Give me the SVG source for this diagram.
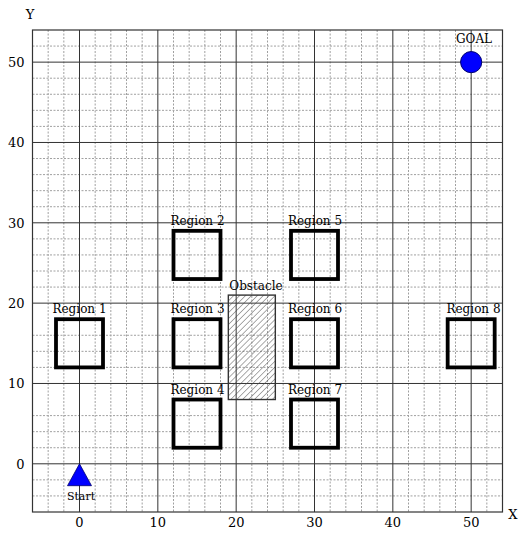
<svg xmlns="http://www.w3.org/2000/svg" width="518" height="534" viewBox="0 0 518 534">
<style>
.minor{fill:none;stroke:#a0a0a0;stroke-width:1;stroke-dasharray:2 1.5}
.major{fill:none;stroke:#333;stroke-width:1}
.border{fill:none;stroke:#333;stroke-width:1.2}
.region{fill:none;stroke:#000;stroke-width:3.8}
.lbl{font-family:"DejaVu Serif","Liberation Serif",serif;font-size:12px;fill:#000}
.tick{font-family:"DejaVu Serif","Liberation Serif",serif;font-size:13px;fill:#000}
.mid{text-anchor:middle}
.end{text-anchor:end}
</style>
<defs>
<pattern id="hatch" patternUnits="userSpaceOnUse" width="4.2" height="4.2" patternTransform="rotate(45)">
<line x1="0" y1="0" x2="0" y2="4.2" stroke="#444" stroke-width="0.9"/>
</pattern>
</defs>
<rect x="0" y="0" width="518" height="534" fill="#fff"/>
<g id="grid">
<path class="minor" d="M48.17 30V512M63.83 30V512M95.17 30V512M110.83 30V512M126.5 30V512M142.17 30V512M173.5 30V512M189.17 30V512M204.83 30V512M220.5 30V512M251.83 30V512M267.5 30V512M283.17 30V512M298.83 30V512M330.17 30V512M345.83 30V512M361.5 30V512M377.17 30V512M408.5 30V512M424.17 30V512M439.83 30V512M455.5 30V512M486.83 30V512"/>
<path class="minor" d="M32.5 46.07H502.5M32.5 78.2H502.5M32.5 94.27H502.5M32.5 110.33H502.5M32.5 126.4H502.5M32.5 158.53H502.5M32.5 174.6H502.5M32.5 190.67H502.5M32.5 206.73H502.5M32.5 238.87H502.5M32.5 254.93H502.5M32.5 271H502.5M32.5 287.07H502.5M32.5 335.27H502.5M32.5 351.33H502.5M32.5 367.4H502.5M32.5 415.6H502.5M32.5 431.67H502.5M32.5 447.73H502.5M32.5 479.87H502.5M32.5 495.93H502.5"/>
<path class="major" d="M79.5 30V512M157.83 30V512M236.17 30V512M314.5 30V512M392.83 30V512M471.17 30V512M32.5 62.13H502.5M32.5 142.47H502.5M32.5 222.8H502.5M32.5 303.13H502.5M32.5 383.47H502.5M32.5 463.8H502.5"/>
<rect class="border" x="32.5" y="30" width="470" height="482"/>
</g>
<g id="axes">
<text class="tick mid" x="79.5" y="527">0</text>
<text class="tick mid" x="157.83" y="527">10</text>
<text class="tick mid" x="236.17" y="527">20</text>
<text class="tick mid" x="314.5" y="527">30</text>
<text class="tick mid" x="392.83" y="527">40</text>
<text class="tick mid" x="471.17" y="527">50</text>
<text class="tick end" x="24.5" y="468.5">0</text>
<text class="tick end" x="24.5" y="388.1">10</text>
<text class="tick end" x="24.5" y="307.8">20</text>
<text class="tick end" x="24.5" y="227.5">30</text>
<text class="tick end" x="24.5" y="147.1">40</text>
<text class="tick end" x="24.5" y="66.8">50</text>
<text class="tick mid" x="30" y="19">Y</text>
<text class="tick mid" x="513" y="518.5">X</text>
</g>
<g id="region1"><rect class="region" x="56" y="319.2" width="47" height="48.2"/><text class="lbl mid" x="79.5" y="313.3">Region 1</text></g>
<g id="region2"><rect class="region" x="173.5" y="230.83" width="47" height="48.2"/><text class="lbl mid" x="197.5" y="225">Region 2</text></g>
<g id="region3"><rect class="region" x="173.5" y="319.2" width="47" height="48.2"/><text class="lbl mid" x="197.5" y="313.3">Region 3</text></g>
<g id="region4"><rect class="region" x="173.5" y="399.53" width="47" height="48.2"/><text class="lbl mid" x="197.5" y="393.6">Region 4</text></g>
<g id="region5"><rect class="region" x="291" y="230.83" width="47" height="48.2"/><text class="lbl mid" x="315" y="225">Region 5</text></g>
<g id="region6"><rect class="region" x="291" y="319.2" width="47" height="48.2"/><text class="lbl mid" x="315" y="313.3">Region 6</text></g>
<g id="region7"><rect class="region" x="291" y="399.53" width="47" height="48.2"/><text class="lbl mid" x="315" y="393.6">Region 7</text></g>
<g id="region8"><rect class="region" x="447.67" y="319.2" width="47" height="48.2"/><text class="lbl mid" x="473.5" y="313.3">Region 8</text></g>
<g id="obstacle"><rect x="228.33" y="295.1" width="47" height="104.43" fill="url(#hatch)" stroke="#333" stroke-width="1.4"/><text class="lbl mid" x="256" y="290">Obstacle</text></g>
<g id="goal"><circle cx="471.17" cy="62.13" r="10.6" fill="#0000ff" stroke="#00006e" stroke-width="1"/><text class="lbl mid" x="474" y="43">GOAL</text></g>
<g id="start"><polygon points="79.5,463.8 67.5,485.7 91.5,485.7" fill="#0000ff" stroke="#00006e" stroke-width="0.8"/><text class="lbl mid" x="81" y="500" style="font-size:11px">Start</text></g>
<g id="connectors"/>
</svg>
